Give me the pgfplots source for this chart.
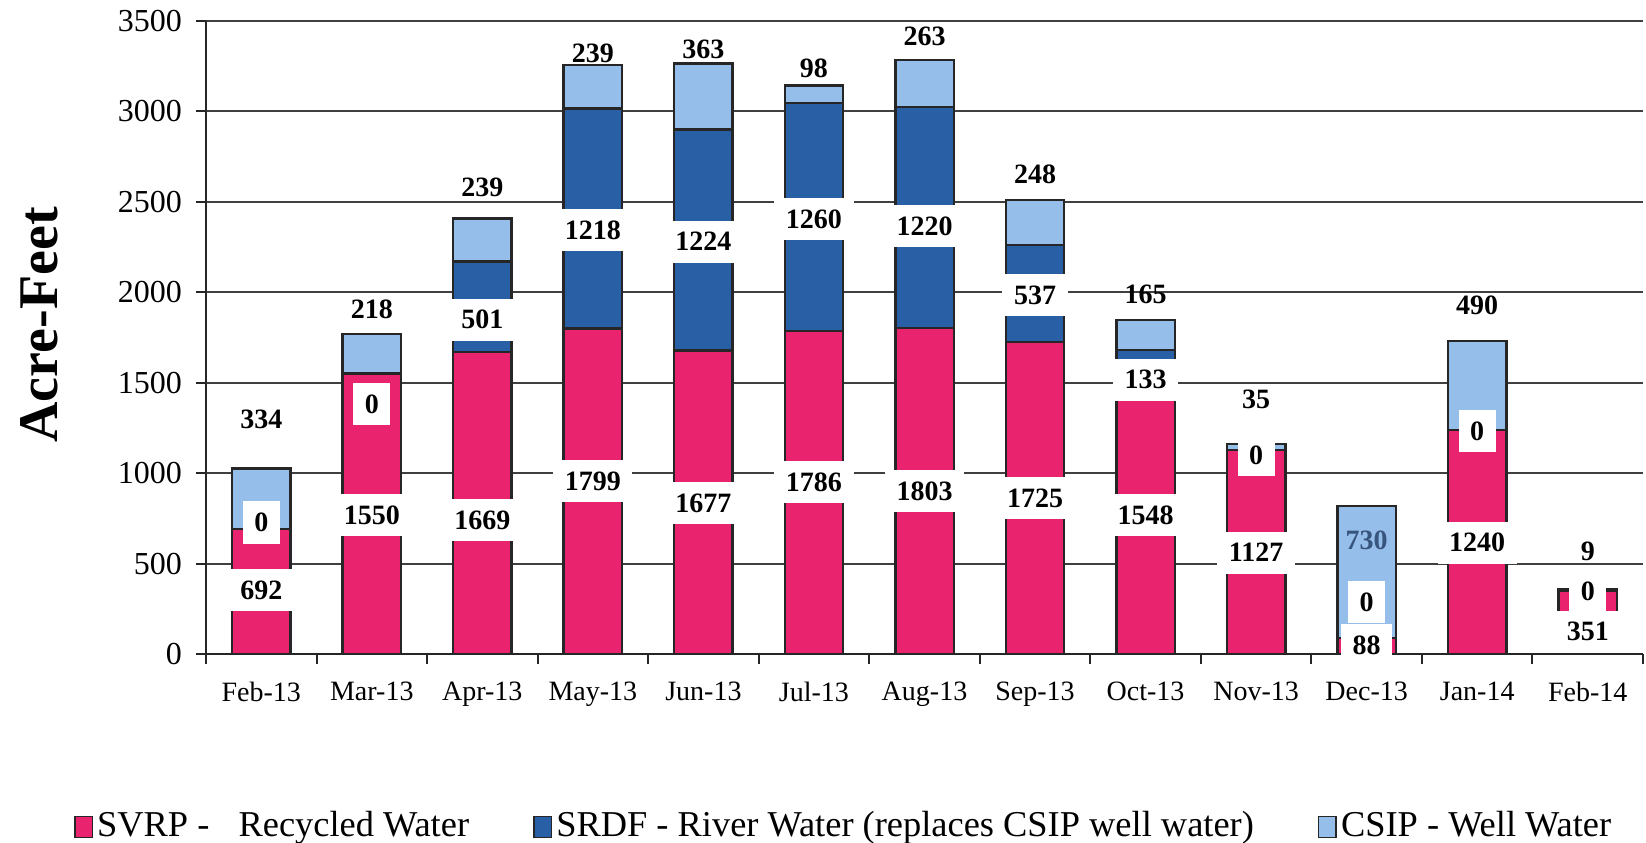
\documentclass[border=0pt]{standalone}
\usepackage{fontspec}
\setmainfont{Liberation Serif}
\usepackage{pgfplots}
\pgfplotsset{compat=1.18}
\usepackage{pgfplotstable}
\definecolor{svrp}{RGB}{233,35,110}
\definecolor{srdf}{RGB}{40,95,165}
\definecolor{csip}{RGB}{150,190,235}
\definecolor{lab730}{RGB}{55,85,125}

\pgfplotstableread{
x svrp srdf csip
0 692 0 334
1 1550 0 218
2 1669 501 239
3 1799 1218 239
4 1677 1224 363
5 1786 1260 98
6 1803 1220 263
7 1725 537 248
8 1548 133 165
9 1127 0 35
10 88 0 730
11 1240 0 490
12 351 0 9
}\datatable

% label positions (boxed labels: SVRP and SRDF)
\pgfplotstableread{
x y lab
0 352 692
0 727 0
1 769 1550
1 1380 0
2 739 1669
2 1849 501
3 954 1799
3 2342 1218
4 833 1677
4 2280 1224
5 949 1786
5 2403 1260
6 900 1803
6 2366 1220
7 863 1725
7 1984 537
8 769 1548
8 1516 133
9 560 1127
9 1100 0
10 49 88
10 288 0
11 616 1240
11 1232 0
12 123 351
12 345 0
}\labboxed

% CSIP labels (no box)
\pgfplotstableread{
x y lab
0 1299 334
1 1905 218
2 2581 239
3 3320 239
4 3345 363
5 3241 98
6 3414 263
7 2650 248
8 1989 165
9 1410 35
11 1928 490
12 567 9
}\labcsip

\pgfplotstableread{
x y lab
10 629 730
}\labdec

\begin{document}
\begin{tikzpicture}
\pgfplotsset{
  common/.style={scale only axis, width=359.25pt, height=158.25pt,
    xmin=-0.5, xmax=12.5, ymin=0, ymax=3500},
  sqleg/.style={legend image code/.code={\draw[##1,line width=0.4pt] (0pt,-2.6pt) rectangle (4.4pt,2.6pt);}},
}
\begin{axis}[common,
  ybar stacked, bar width=14.6pt,
  axis lines=left, axis line style={-, black!85, line width=0.6pt},
  ymajorgrids, grid style={black!75, line width=0.5pt},
  ytick={0,500,...,3500},
  xtick={0,...,12},
  xticklabels={Feb-13,Mar-13,Apr-13,May-13,Jun-13,Jul-13,Aug-13,Sep-13,Oct-13,Nov-13,Dec-13,Jan-14,Feb-14},
  minor xtick={-0.5,0.5,...,12.5},
  tick align=outside, major tick length=2.5pt, minor tick length=2.5pt,
  every major x tick/.style={draw=none},
  tick style={black!85, line width=0.5pt},
  /pgf/number format/assume math mode=true,
  /pgf/number format/1000 sep={},
  yticklabel style={font=\fontsize{8}{9}\selectfont},
  xticklabel style={font=\fontsize{7}{8}\selectfont, yshift=-1pt},
  ylabel={Acre-Feet},
  ylabel style={font=\fontsize{14}{16}\selectfont\bfseries, at={(axis description cs:0,0.52)}, anchor=center, yshift=41.75pt},
  legend style={at={(0,0)}, anchor=west, xshift=-33pt, yshift=-43.25pt, legend columns=3, draw=none, fill=none,
    inner sep=0pt, outer sep=0pt,
    font=\fontsize{9.1}{10}\selectfont, /tikz/every even column/.style={column sep=15pt},
    nodes={inner xsep=1pt}},
]
\addplot[fill=svrp, draw=black!85, line width=0.6pt, sqleg] table[x=x,y=svrp] \datatable;
\addplot[fill=srdf, draw=black!85, line width=0.6pt, sqleg] table[x=x,y=srdf] \datatable;
\addplot[fill=csip, draw=black!85, line width=0.6pt, sqleg] table[x=x,y=csip] \datatable;
\legend{SVRP -\hspace{0.8em}Recycled Water, SRDF - River Water (replaces CSIP well water), CSIP - Well Water}
\end{axis}
\begin{axis}[common, hide axis, point meta=explicit symbolic]
\addplot[draw=none, mark=none, nodes near coords, nodes near coords align=center,
  every node near coord/.append style={anchor=center, fill=white, inner sep=2.9pt, text=black, font=\fontsize{7}{8}\selectfont\bfseries}]
  table[x=x,y=y,meta=lab] \labboxed;
\addplot[draw=none, mark=none, nodes near coords, nodes near coords align=center,
  every node near coord/.append style={anchor=center, inner sep=0pt, text=black, font=\fontsize{7}{8}\selectfont\bfseries}]
  table[x=x,y=y,meta=lab] \labcsip;
\addplot[draw=none, mark=none, nodes near coords, nodes near coords align=center,
  every node near coord/.append style={anchor=center, inner sep=0pt, text=lab730, font=\fontsize{7}{8}\selectfont\bfseries}]
  table[x=x,y=y,meta=lab] \labdec;
\end{axis}
\pgfresetboundingbox
\path[use as bounding box] (-51.5pt,-47.25pt) rectangle (360pt,163.5pt);
\end{tikzpicture}
\end{document}
